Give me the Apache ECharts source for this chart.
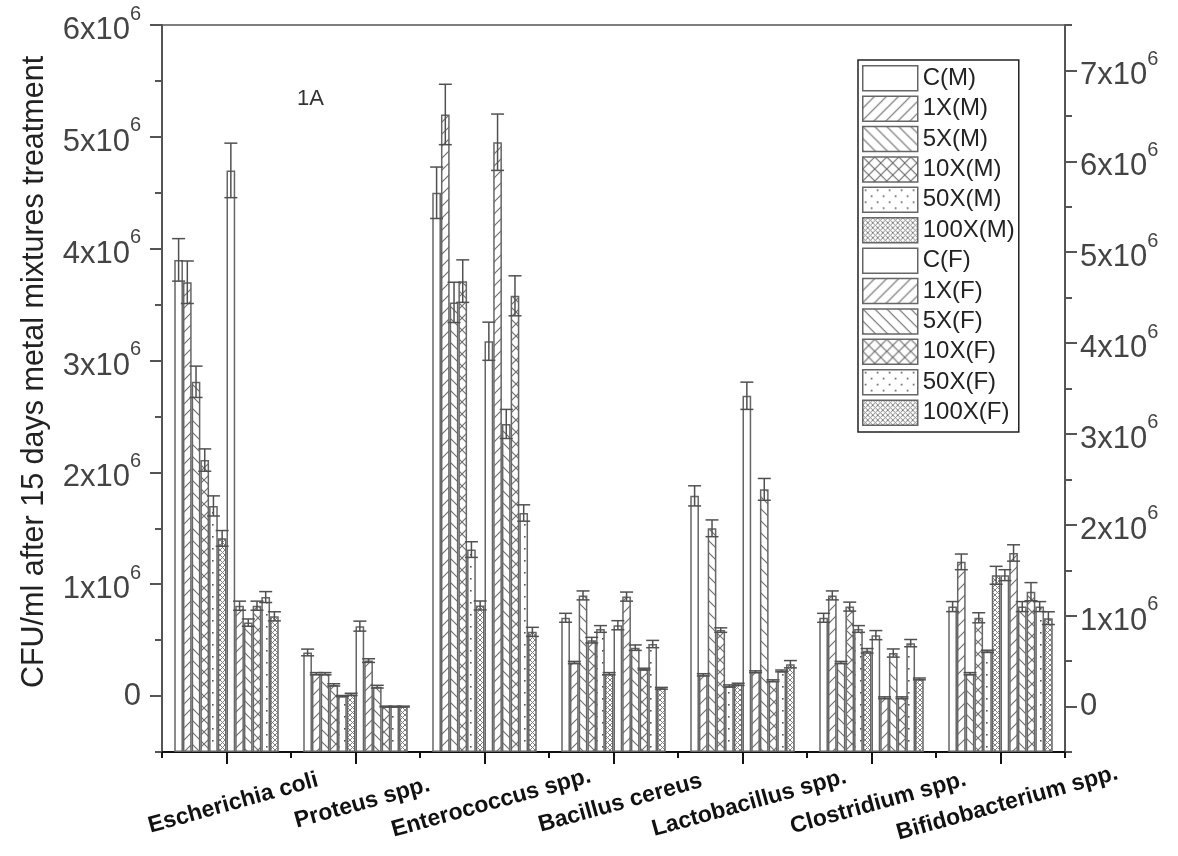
<!DOCTYPE html>
<html>
<head>
<meta charset="utf-8">
<script src="https://cdn.jsdelivr.net/npm/echarts@6/dist/echarts.min.js"></script>
<style>
html,body{margin:0;padding:0;background:#fff;}
#chart{width:1178px;height:856px;}
</style>
</head>
<body>
<div id="chart"></div>
<script>
// ---------------- DATA ----------------
const categories = ['Escherichia coli','Proteus spp.','Enterococcus spp.','Bacillus cereus','Lactobacillus spp.','Clostridium spp.','Bifidobacterium spp.'];
const namesM = ['C(M)','1X(M)','5X(M)','10X(M)','50X(M)','100X(M)'];
const namesF = ['C(F)','1X(F)','5X(F)','10X(F)','50X(F)','100X(F)'];

// Male series (left axis), CFU/ml
const valC_M    = [3.90e6, 0.39e6, 4.50e6, 0.70e6, 1.79e6, 0.70e6, 0.80e6];
const val1X_M   = [3.70e6, 0.20e6, 5.20e6, 0.30e6, 0.19e6, 0.90e6, 1.20e6];
const val5X_M   = [2.81e6, 0.20e6, 3.52e6, 0.90e6, 1.50e6, 0.30e6, 0.20e6];
const val10X_M  = [2.11e6, 0.10e6, 3.71e6, 0.50e6, 0.59e6, 0.80e6, 0.70e6];
const val50X_M  = [1.70e6, 0.00e6, 1.31e6, 0.60e6, 0.09e6, 0.60e6, 0.40e6];
const val100X_M = [1.41e6, 0.015e6, 0.81e6, 0.20e6, 0.105e6, 0.405e6, 1.08e6];
const errC_M    = [0.19e6, 0.03e6, 0.23e6, 0.04e6, 0.09e6, 0.04e6, 0.045e6];
const err1X_M   = [0.19e6, 0.01e6, 0.27e6, 0.01e6, 0.01e6, 0.04e6, 0.07e6];
const err5X_M   = [0.14e6, 0.01e6, 0.18e6, 0.04e6, 0.075e6, 0.01e6, 0.01e6];
const err10X_M  = [0.10e6, 0.01e6, 0.19e6, 0.025e6, 0.02e6, 0.04e6, 0.045e6];
const err50X_M  = [0.09e6, 0.005e6, 0.07e6, 0.03e6, 0.01e6, 0.03e6, 0.01e6];
const err100X_M = [0.07e6, 0.01e6, 0.04e6, 0.01e6, 0.01e6, 0.02e6, 0.08e6];

// Female series (right axis), CFU/ml
const valC_F    = [5.90e6, 0.885e6, 4.02e6, 0.895e6, 3.42e6, 0.786e6, 1.446e6];
const val1X_F   = [1.11e6, 0.506e6, 6.21e6, 1.21e6, 0.383e6, 0.097e6, 1.69e6];
const val5X_F   = [0.924e6, 0.219e6, 3.11e6, 0.648e6, 2.39e6, 0.589e6, 1.10e6];
const val10X_F  = [1.11e6, 0.00e6, 4.52e6, 0.412e6, 0.284e6, 0.097e6, 1.264e6];
const val50X_F  = [1.205e6, 0.00e6, 2.13e6, 0.688e6, 0.392e6, 0.698e6, 1.10e6];
const val100X_F = [0.993e6, 0.00e6, 0.822e6, 0.201e6, 0.466e6, 0.304e6, 0.973e6];
const errC_F    = [0.30e6, 0.055e6, 0.21e6, 0.05e6, 0.15e6, 0.05e6, 0.06e6];
const err1X_F   = [0.05e6, 0.02e6, 0.31e6, 0.05e6, 0.01e6, 0.01e6, 0.09e6];
const err5X_F   = [0.04e6, 0.015e6, 0.16e6, 0.03e6, 0.12e6, 0.045e6, 0.055e6];
const err10X_F  = [0.05e6, 0.005e6, 0.22e6, 0.01e6, 0.01e6, 0.01e6, 0.10e6];
const err50X_F  = [0.06e6, 0.005e6, 0.09e6, 0.04e6, 0.01e6, 0.04e6, 0.055e6];
const err100X_F = [0.05e6, 0.005e6, 0.05e6, 0.01e6, 0.04e6, 0.01e6, 0.07e6];

// axis ticks
const leftTicks  = [0, 1e6, 2e6, 3e6, 4e6, 5e6, 6e6];
const leftMinor  = [-0.5e6, 0.5e6, 1.5e6, 2.5e6, 3.5e6, 4.5e6, 5.5e6];
const rightTicks = [0, 1e6, 2e6, 3e6, 4e6, 5e6, 6e6, 7e6];
const rightMinor = [-0.5e6, 0.5e6, 1.5e6, 2.5e6, 3.5e6, 4.5e6, 5.5e6, 6.5e6, 7.5e6];
const yTitle = 'CFU/ml after 15 days metal mixtures treatment';
const panelLabel = '1A';

// ---------------- PATTERNS ----------------
function makePattern(kind) {
  if (kind === 'none') return '#ffffff';
  const c = document.createElement('canvas');
  let n = 12;
  if (kind === 'dense') n = 5;
  c.width = n; c.height = n;
  const ctx = c.getContext('2d');
  ctx.fillStyle = '#ffffff';
  ctx.fillRect(0, 0, n, n);
  ctx.strokeStyle = '#707070';
  ctx.lineWidth = 1.2;
  function fwd() {
    ctx.beginPath();
    ctx.moveTo(0, n); ctx.lineTo(n, 0);
    ctx.moveTo(-2, 2); ctx.lineTo(2, -2);
    ctx.moveTo(n - 2, n + 2); ctx.lineTo(n + 2, n - 2);
    ctx.stroke();
  }
  function back() {
    ctx.beginPath();
    ctx.moveTo(0, 0); ctx.lineTo(n, n);
    ctx.moveTo(-2, n - 2); ctx.lineTo(2, n + 2);
    ctx.moveTo(n - 2, -2); ctx.lineTo(n + 2, 2);
    ctx.stroke();
  }
  if (kind === 'fwd') fwd();
  else if (kind === 'back') back();
  else if (kind === 'cross') { fwd(); back(); }
  else if (kind === 'dense') { ctx.strokeStyle = '#808080'; ctx.lineWidth = 1; fwd(); back(); }
  else if (kind === 'dots') {
    ctx.fillStyle = '#555555';
    ctx.fillRect(2, 2, 1.6, 1.6);
    ctx.fillRect(8, 8, 1.6, 1.6);
  }
  return { image: c, repeat: 'repeat' };
}
const patternKinds = ['none', 'fwd', 'back', 'cross', 'dots', 'dense'];

// ---------------- BUILD ----------------
const valsM = [valC_M, val1X_M, val5X_M, val10X_M, val50X_M, val100X_M];
const errsM = [errC_M, err1X_M, err5X_M, err10X_M, err50X_M, err100X_M];
const valsF = [valC_F, val1X_F, val5X_F, val10X_F, val50X_F, val100X_F];
const errsF = [errC_F, err1X_F, err5X_F, err10X_F, err50X_F, err100X_F];

const GAP = 0.19;
const NBARS = 12;
const allNames = namesM.concat(namesF);
const allVals = valsM.concat(valsF);
const allErrs = errsM.concat(errsF);

const barSeries = [];
const errSeries = [];
allNames.forEach(function (name, i) {
  const yIdx = i < 6 ? 0 : 1;
  barSeries.push({
    name: name,
    type: 'bar',
    xAxisIndex: 0,
    yAxisIndex: yIdx,
    data: allVals[i],
    barGap: '0%',
    barCategoryGap: (GAP * 100) + '%',
    itemStyle: { color: makePattern(patternKinds[i % 6]), borderColor: '#666666', borderWidth: 1.5 },
    emphasis: { disabled: true },
    z: 2
  });
  const data = allVals[i].map(function (v, c) { return [c, v, allErrs[i][c]]; });
  errSeries.push({
    type: 'custom',
    xAxisIndex: 0,
    yAxisIndex: yIdx,
    silent: true,
    z: 5,
    encode: { x: 0, y: 1 },
    data: data,
    renderItem: function (params, api) {
      const c = api.value(0), v = api.value(1), e = api.value(2);
      const center = api.coord([c, v]);
      const band = api.size([1, 0])[0];
      const gw = band * (1 - GAP);
      const bw = gw / NBARS;
      const x = center[0] - gw / 2 + (i + 0.5) * bw;
      const yT = api.coord([c, v + e])[1];
      const yB = api.coord([c, v - e])[1];
      const h = 6.5;
      const st = { stroke: '#505050', lineWidth: 1.5 };
      return {
        type: 'group',
        children: [
          { type: 'line', shape: { x1: x, y1: yT, x2: x, y2: yB }, style: st },
          { type: 'line', shape: { x1: x - h, y1: yT, x2: x + h, y2: yT }, style: st },
          { type: 'line', shape: { x1: x - h, y1: yB, x2: x + h, y2: yB }, style: st }
        ]
      };
    }
  });
});

const FONT = 'Liberation Sans, Arial, sans-serif';
const tickRich = {
  n: { fontSize: 31, color: '#444', fontFamily: FONT, padding: [11, 0, 0, 0] },
  s: { fontSize: 20, color: '#444', fontFamily: FONT, verticalAlign: 'top', lineHeight: 21 },
  z: { fontSize: 31, color: '#444', fontFamily: FONT }
};
function fmtTick(v) {
  if (Math.abs(v) < 1) return '{z|0}';
  return '{n|' + Math.round(v / 1e6) + 'x10}{s|6}';
}

const axisCol = '#555';
const option = {
  animation: false,
  backgroundColor: '#ffffff',
  grid: { left: 162, right: 113, top: 25, bottom: 104, show: true, borderColor: axisCol, borderWidth: 1.5, backgroundColor: 'transparent' },
  legend: {
    data: allNames,
    orient: 'vertical',
    left: 858, top: 60,
    itemWidth: 55, itemHeight: 25, itemGap: 3.9,
    icon: 'rect',
    padding: [5, 4, 6, 4],
    borderColor: '#222', borderWidth: 1.5,
    backgroundColor: '#ffffff',
    selectedMode: false,
    textStyle: { fontSize: 24, color: '#222', fontFamily: FONT, padding: [0, 0, 0, 0] },
    itemStyle: { borderColor: '#666666', borderWidth: 1.5 }
  },
  xAxis: [
    {
      type: 'category', data: categories, position: 'bottom',
      axisLine: { onZero: false, lineStyle: { color: '#111', width: 2 } },
      axisTick: { show: true, interval: 0, length: 6, lineStyle: { color: '#111', width: 2 } },
      axisLabel: { show: false },
      splitLine: { show: false }
    },
    {
      type: 'category', data: categories, position: 'bottom',
      axisLine: { show: false, onZero: false },
      axisTick: { show: true, interval: 0, alignWithLabel: true, length: 12, lineStyle: { color: '#111', width: 2 } },
      axisLabel: { interval: 0, rotate: 15.5, align: 'center', verticalAlign: 'middle', margin: 53, fontSize: 23, fontWeight: 'bold', color: '#111', fontFamily: FONT, padding: [0, 0, 0, 14] },
      splitLine: { show: false }
    }
  ],
  yAxis: [
    {
      type: 'value', position: 'left', min: -0.5e6, max: 6e6, startValue: -0.5e6,
      axisLine: { show: true, lineStyle: { color: axisCol, width: 2 } },
      axisTick: { show: true, customValues: leftTicks, length: 12, lineStyle: { color: axisCol, width: 2 } },
      axisLabel: { customValues: leftTicks, formatter: fmtTick, rich: tickRich, margin: 21 },
      splitLine: { show: false }
    },
    {
      type: 'value', position: 'right', min: -0.5e6, max: 7.5e6, startValue: -0.5e6,
      axisLine: { show: true, lineStyle: { color: axisCol, width: 2 } },
      axisTick: { show: true, customValues: rightTicks, length: 12, lineStyle: { color: axisCol, width: 2 } },
      axisLabel: { customValues: rightTicks, formatter: fmtTick, rich: tickRich, margin: 15 },
      splitLine: { show: false }
    },
    {
      type: 'value', position: 'left', min: -0.5e6, max: 6e6,
      axisLine: { show: false },
      axisTick: { show: true, customValues: leftMinor, length: 7, lineStyle: { color: axisCol, width: 2 } },
      axisLabel: { show: false },
      splitLine: { show: false }
    },
    {
      type: 'value', position: 'right', min: -0.5e6, max: 7.5e6,
      axisLine: { show: false },
      axisTick: { show: true, customValues: rightMinor, length: 7, lineStyle: { color: axisCol, width: 2 } },
      axisLabel: { show: false },
      splitLine: { show: false }
    }
  ],
  graphic: [
    { type: 'text', x: 35, y: 372, rotation: Math.PI / 2, silent: true,
      style: { text: yTitle, fontSize: 30.5, fontFamily: FONT, fill: '#222', align: 'center', verticalAlign: 'middle' } },
    { type: 'text', x: 297, y: 88, silent: true,
      style: { text: panelLabel, fontSize: 22, fontFamily: FONT, fill: '#333' } }
  ],
  series: barSeries.concat(errSeries)
};

const chart = echarts.init(document.getElementById('chart'), null, { renderer: 'canvas' });
chart.setOption(option);
</script>
</body>
</html>
